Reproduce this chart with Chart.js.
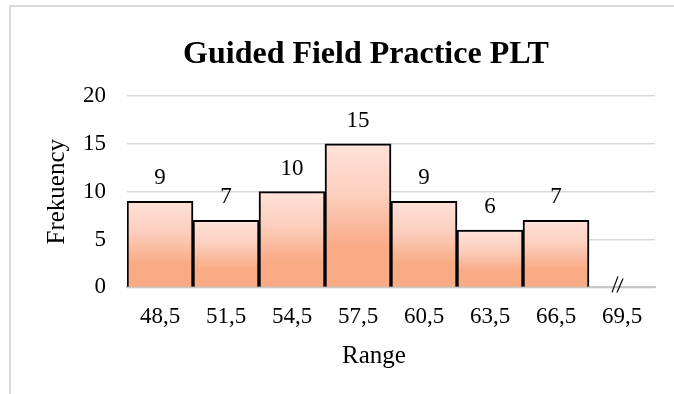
<!DOCTYPE html>
<html>
<head>
<meta charset="utf-8">
<script src="https://cdn.jsdelivr.net/npm/chart.js@4"></script>
<style>
  body { margin: 0; background: #fff; overflow: hidden; }
  .frame {
    position: absolute; left: 9px; top: 5px; width: 800px; height: 500px;
    border-left: 2px solid #dadada; border-top: 2px solid #dadada;
  }
  #hist { position: absolute; left: 0; top: 0; }
</style>
</head>
<body>
<div class="frame"></div>
<canvas id="hist" width="732" height="394"></canvas>
<script>
// class boundaries and frequency per class
const ranges = ['48,5', '51,5', '54,5', '57,5', '60,5', '63,5', '66,5', '69,5'];
const frekuensi = [9, 7, 10, 15, 9, 6, 7, null];
const yTicks = [0, 5, 10, 15, 20];

const serif = "'Liberation Serif', 'Times New Roman', serif";
Chart.defaults.font.family = serif;
Chart.defaults.color = '#000';

// vertical fade inside each bar: pale pink top, orange lower part
function barGradient(ctx) {
  const chart = ctx.chart;
  if (!chart.chartArea || ctx.raw == null) return '#f9ab86';
  const y = chart.scales.y;
  const top = y.getPixelForValue(ctx.raw);
  const base = y.getPixelForValue(0);
  const g = chart.ctx.createLinearGradient(0, top, 0, base);
  g.addColorStop(0, '#fee2d9');
  g.addColorStop(0.35, '#fccfbe');
  g.addColorStop(0.72, '#f9ab86');
  g.addColorStop(1, '#f9ab86');
  return g;
}

// numbers above bars, chart title, axis title "Range" and the axis break mark
const extras = {
  id: 'extras',
  afterDatasetsDraw(chart) {
    const c = chart.ctx;
    c.save();
    c.fillStyle = '#000';
    c.font = '23px ' + serif;
    c.textAlign = 'center';
    c.textBaseline = 'middle';
    chart.getDatasetMeta(0).data.forEach((bar, i) => {
      if (frekuensi[i] == null) return;
      c.fillText(String(frekuensi[i]), bar.x, bar.y - 23);
    });
    c.restore();
  },
  afterDraw(chart) {
    const c = chart.ctx;
    const x = chart.scales.x;
    const base = chart.scales.y.getPixelForValue(0);
    c.save();
    c.fillStyle = '#000';
    c.textAlign = 'center';
    c.textBaseline = 'middle';
    c.font = 'bold 32px ' + serif;
    c.fillText('Guided Field Practice PLT', 366, 55);
    c.font = '25px ' + serif;
    c.fillText('Range', 374, 356);

    // "//" break on the last boundary
    const bx = x.getPixelForValue(ranges.length - 1) - 6;
    c.strokeStyle = '#000';
    c.lineWidth = 1.2;
    c.beginPath();
    c.moveTo(bx - 4, base + 5); c.lineTo(bx + 2, base - 11);
    c.moveTo(bx + 1, base + 5); c.lineTo(bx + 7, base - 9);
    c.stroke();
    c.restore();
  }
};

new Chart(document.getElementById('hist'), {
  type: 'bar',
  data: {
    labels: ranges,
    datasets: [{
      data: frekuensi,
      backgroundColor: barGradient,
      borderColor: '#000',
      borderWidth: 2,
      borderSkipped: 'bottom',
      barPercentage: 1,
      categoryPercentage: 1
    }]
  },
  options: {
    responsive: false,
    animation: false,
    layout: { padding: { left: 38, right: 77, top: 96, bottom: 47 } },
    plugins: {
      legend: { display: false },
      tooltip: { enabled: false },
      title: { display: false }
    },
    scales: {
      x: {
        z: 1,
        grid: { display: false, drawTicks: false },
        border: { display: true, color: '#c8c8c8', width: 2 },
        ticks: { font: { size: 23 }, padding: 16, maxRotation: 0, autoSkip: false }
      },
      y: {
        min: 0,
        max: 20,
        afterBuildTicks(scale) { scale.ticks = yTicks.map(v => ({ value: v })); },
        grid: { color: '#d9d9d9', lineWidth: 1.5, drawTicks: false },
        border: { display: false },
        ticks: { font: { size: 23 }, padding: 21 },
        title: {
          display: true,
          text: 'Frekuency',
          font: { size: 25 },
          padding: { top: 4, bottom: -10 }
        }
      }
    }
  },
  plugins: [extras]
});
</script>
</body>
</html>
